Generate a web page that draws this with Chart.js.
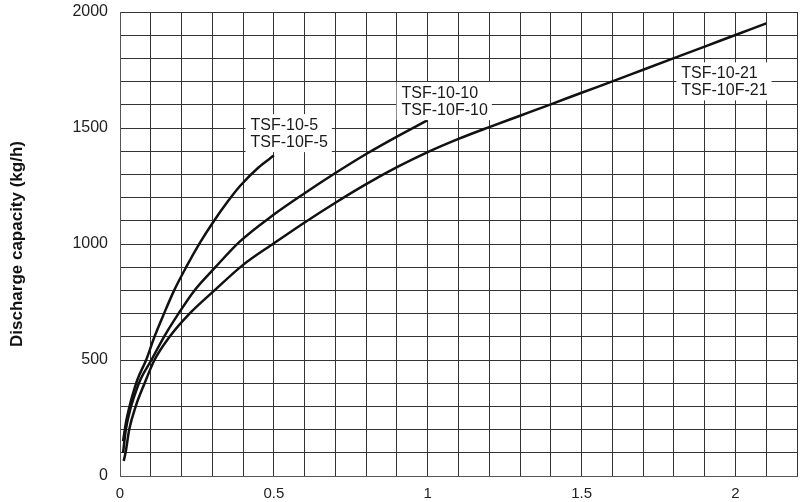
<!DOCTYPE html>
<html>
<head>
<meta charset="utf-8">
<script src="https://cdn.jsdelivr.net/npm/chart.js@4.4.1/dist/chart.umd.min.js"></script>
<style>
  html, body { margin: 0; padding: 0; background: #ffffff; }
  #wrap { width: 800px; height: 502px; }
</style>
</head>
<body>
<div id="wrap"><canvas id="c" width="800" height="502"></canvas></div>
<script>
// ---- Data ----
const seriesNames = ["TSF-10-5 / TSF-10F-5", "TSF-10-10 / TSF-10F-10", "TSF-10-21 / TSF-10F-21"];

const tsf5X = [0.010, 0.020, 0.030, 0.040, 0.058, 0.085, 0.112, 0.143, 0.176, 0.215, 0.262, 0.303, 0.350, 0.390, 0.450, 0.500];
const tsf5Y = [150, 235, 295, 345, 420, 500, 600, 700, 800, 900, 1010, 1095, 1183, 1250, 1330, 1381];

const tsf10X = [0.010, 0.019, 0.032, 0.048, 0.068, 0.102, 0.143, 0.190, 0.242, 0.310, 0.389, 0.500, 0.600, 0.700, 0.800, 0.900, 1.000];
const tsf10Y = [100, 200, 280, 350, 420, 500, 600, 700, 800, 900, 1010, 1127, 1219, 1306, 1388, 1463, 1534];

const tsf21X = [0.012, 0.018, 0.030, 0.051, 0.080, 0.112, 0.161, 0.226, 0.307, 0.400, 0.500, 0.600, 0.700, 0.800, 0.900, 1.000, 1.100, 1.200, 1.300, 1.400, 1.500, 1.600, 1.700, 1.800, 1.900, 2.000, 2.100];
const tsf21Y = [65, 100, 200, 300, 400, 500, 600, 700, 800, 910, 1003, 1093, 1178, 1258, 1331, 1396, 1453, 1504, 1553, 1602, 1652, 1701, 1751, 1801, 1851, 1901, 1951];

const xTickLabels = ["0", "0.5", "1", "1.5", "2"];
const yTickLabels = ["0", "500", "1000", "1500", "2000"];

const curveLabels = [
  ["TSF-10-5", "TSF-10F-5"],
  ["TSF-10-10", "TSF-10F-10"],
  ["TSF-10-21", "TSF-10F-21"]
];
// anchor (data units) of the first text line's left/baseline
const labelAnchorX = [0.424, 0.915, 1.824];
const labelAnchorY = [1491, 1629, 1714];

const yTitle = "Discharge capacity (kg/h)";

// ---- Build datasets ----
function pts(xs, ys) { return xs.map((x, i) => ({ x: x, y: ys[i] })); }
const FONT = "'Liberation Sans', Arial, Helvetica, sans-serif";

const lineStyle = {
  borderColor: '#111111',
  borderWidth: 2.5,
  pointRadius: 0,
  fill: false,
  cubicInterpolationMode: 'monotone',
  tension: 0.4
};

const labelPlugin = {
  id: 'curveLabels',
  afterDatasetsDraw(chart) {
    const ctx = chart.ctx;
    const xs = chart.scales.x, ys = chart.scales.y;
    ctx.save();
    ctx.font = "16px " + FONT;
    ctx.textBaseline = 'alphabetic';
    ctx.textAlign = 'left';
    curveLabels.forEach((lines, i) => {
      const px = xs.getPixelForValue(labelAnchorX[i]);
      const py = ys.getPixelForValue(labelAnchorY[i]);
      const w = Math.max(...lines.map(t => ctx.measureText(t).width));
      const lh = 17;
      ctx.fillStyle = '#ffffff';
      ctx.fillRect(px - 5, py - 16, w + 9, lh * (lines.length - 1) + 21);
      ctx.fillStyle = '#1a1a1a';
      lines.forEach((t, j) => ctx.fillText(t, px, py + j * lh));
    });
    ctx.restore();
  }
};

new Chart(document.getElementById('c'), {
  type: 'line',
  data: {
    datasets: [
      Object.assign({ label: seriesNames[0], data: pts(tsf5X, tsf5Y) }, lineStyle),
      Object.assign({ label: seriesNames[1], data: pts(tsf10X, tsf10Y) }, lineStyle),
      Object.assign({ label: seriesNames[2], data: pts(tsf21X, tsf21Y) }, lineStyle)
    ]
  },
  options: {
    responsive: false,
    animation: false,
    devicePixelRatio: 1,
    layout: { padding: { top: 12, right: 3, left: 0, bottom: 0 } },
    plugins: { legend: { display: false }, tooltip: { enabled: false } },
    scales: {
      x: {
        type: 'linear',
        min: 0, max: 2.2,
        border: { display: true, color: '#555555', width: 1 },
        grid: { color: '#333333', lineWidth: 1, drawTicks: false },
        ticks: {
          stepSize: 0.1,
          autoSkip: false,
          maxRotation: 0,
          padding: 9,
          color: '#222222',
          font: { family: FONT, size: 15 },
          callback: function(v) {
            const k = Math.round(v * 10);
            if (k % 5 !== 0) return '';
            return xTickLabels[k / 5];
          }
        },
        afterFit: function(s) { s.height = 26; s.paddingLeft = 0; s.paddingRight = 0; }
      },
      y: {
        type: 'linear',
        min: 0, max: 2000,
        border: { display: true, color: '#555555', width: 1 },
        grid: { color: '#333333', lineWidth: 1, drawTicks: false },
        ticks: {
          stepSize: 100,
          autoSkip: false,
          padding: 12,
          color: '#222222',
          font: { family: FONT, size: 16 },
          callback: function(v) {
            const k = Math.round(v / 100);
            if (k % 5 !== 0) return '';
            return yTickLabels[k / 5];
          }
        },
        title: {
          display: true,
          text: yTitle,
          color: '#111111',
          font: { family: FONT, size: 17, weight: 'bold' },
          padding: { top: 7, bottom: 0 }
        },
        afterFit: function(s) { s.width = 120; s.paddingTop = 0; s.paddingBottom = 0; }
      }
    }
  },
  plugins: [labelPlugin]
});
</script>
</body>
</html>
